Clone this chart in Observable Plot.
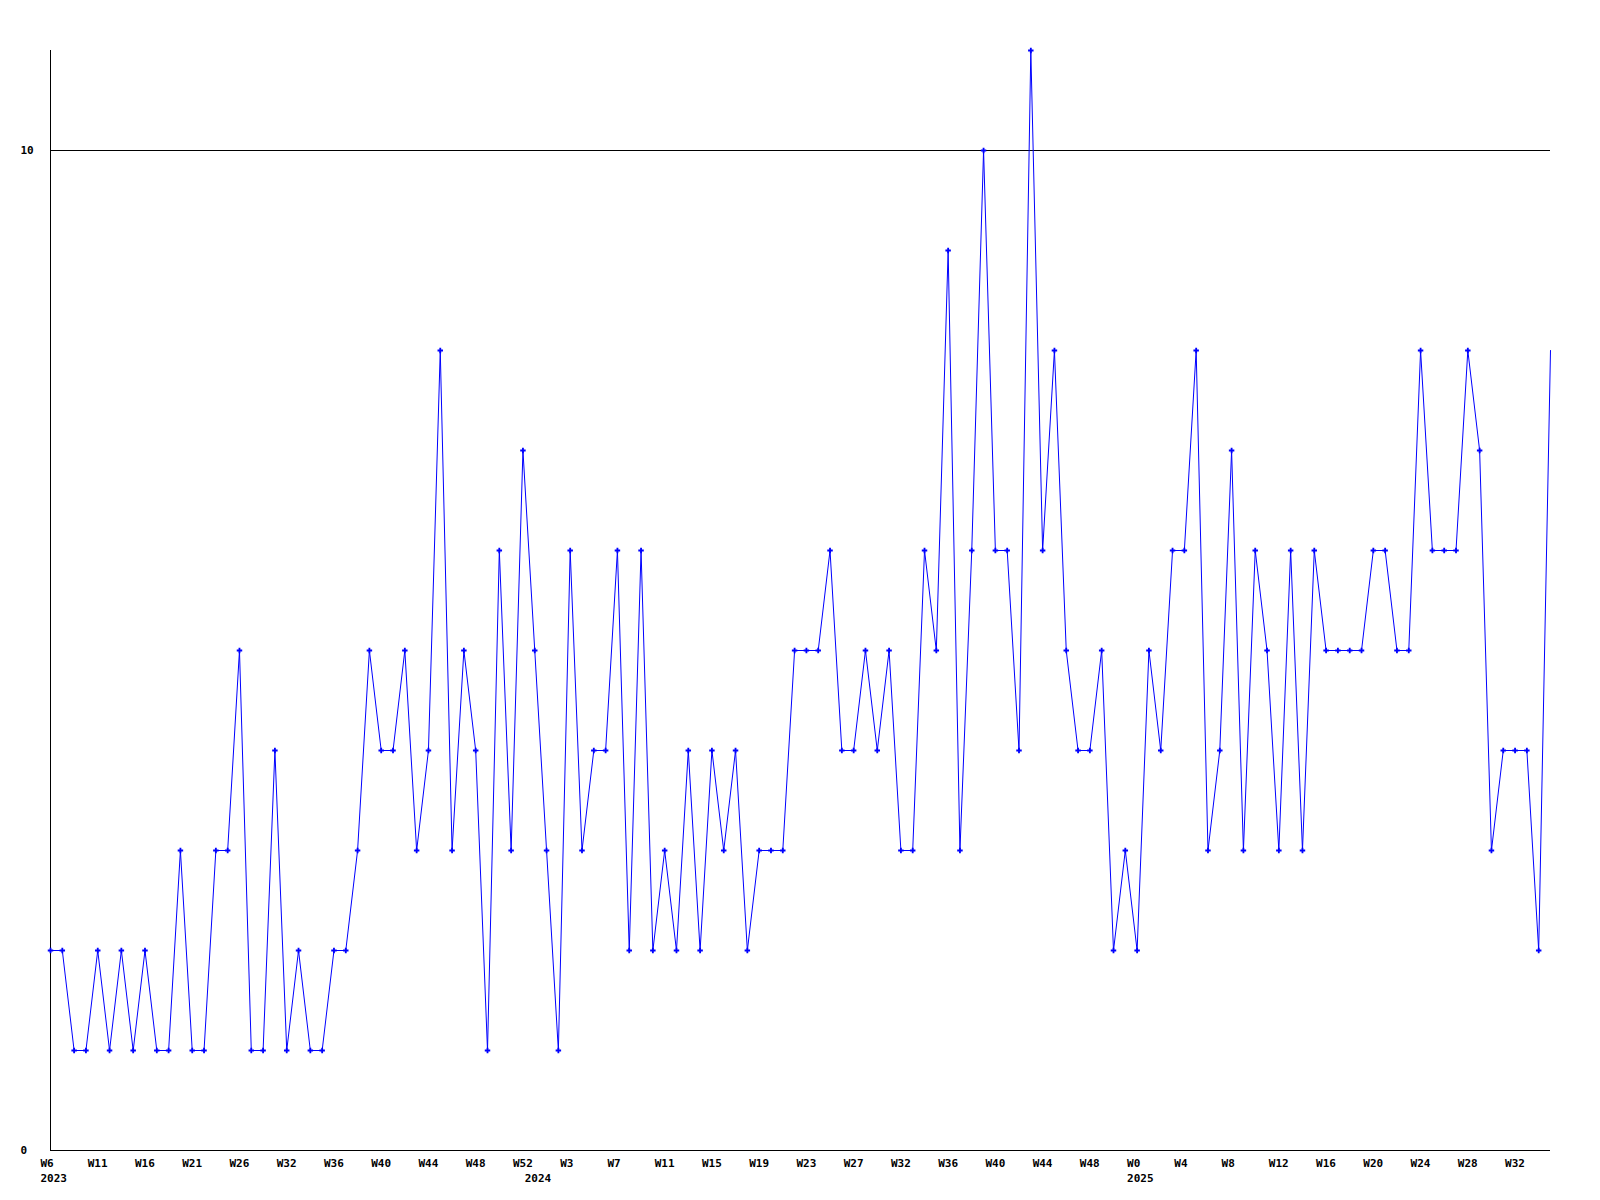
<!DOCTYPE html>
<html>
<head>
<meta charset="utf-8">
<script src="https://cdn.jsdelivr.net/npm/d3@7"></script>
<script src="https://cdn.jsdelivr.net/npm/@observablehq/plot@0.6"></script>
<style>
  html, body { margin: 0; padding: 0; background: #ffffff; }
  #chart svg { display: block; }
</style>
</head>
<body>
<div id="chart"></div>
<script>
// Weekly counts, 2023 W6 through 2025 (one value per week)
const values = [
  2,2,1,1,2,1,2,1,2,1,
  1,3,1,1,3,3,5,1,1,4,
  1,2,1,1,2,2,3,5,4,4,
  5,3,4,8,3,5,4,1,6,3,
  7,5,3,1,6,3,4,4,6,2,
  6,2,3,2,4,2,4,3,4,2,
  3,3,3,5,5,5,6,4,4,5,
  4,5,3,3,6,5,9,3,6,10,
  6,6,4,11,6,8,5,4,4,5,
  2,3,2,5,4,6,6,8,3,4,
  7,3,6,5,3,6,3,6,5,5,
  5,5,6,6,5,5,8,6,6,6,
  8,7,3,4,4,4,2,8
];
// week positions (index of each weekly point)
const weeks = values.map((_, i) => i);

// week tick labels, one every 4 points
const weekTickIndex = d3.range(0, 125, 4);
const weekTickLabels = [
  "W6","W11","W16","W21","W26","W32","W36","W40","W44","W48","W52",
  "W3","W7","W11","W15","W19","W23","W27","W32","W36","W40","W44","W48",
  "W0","W4","W8","W12","W16","W20","W24","W28","W32"
];
// year labels
const yearTickIndex = [0, 41, 92];
const yearTickLabels = ["2023", "2024", "2025"];
// y ticks
const yTicks = [0, 10];

const data = weeks.map((w, i) => ({week: w, value: values[i]}));
// the final (current, still-open) week is drawn without a marker in the reference
const markerData = data.slice(0, -1);

const FONT = "'DejaVu Sans Mono', 'Liberation Mono', monospace";

const chart = Plot.plot({
  width: 1600,
  height: 1200,
  marginLeft: 50,
  marginRight: 50,
  marginTop: 50,
  marginBottom: 50,
  style: {fontFamily: FONT, fontSize: "11px", fontWeight: "bold", background: "#ffffff", color: "#000"},
  x: {type: "linear", domain: [0, values.length - 1], axis: null, label: null},
  y: {type: "linear", domain: [0, 11], axis: null, label: null},
  marks: [
    Plot.ruleY([10], {stroke: "#000", strokeWidth: 1}),
    Plot.ruleY([0], {stroke: "#000", strokeWidth: 1}),
    Plot.ruleX([0], {stroke: "#000", strokeWidth: 1}),
    Plot.axisY({
      ticks: yTicks,
      tickSize: 0,
      tickPadding: 30,
      textAnchor: "start",
      tickFormat: d => String(d),
      label: null,
      fill: "#000",
      fontWeight: "bold"
    }),
    Plot.axisX({
      ticks: weekTickIndex,
      tickSize: 0,
      tickPadding: 8.5,
      textAnchor: "start",
      dx: -10,
      tickFormat: (d) => weekTickLabels[weekTickIndex.indexOf(d)],
      label: null,
      fill: "#000",
      fontWeight: "bold"
    }),
    Plot.axisX({
      ticks: yearTickIndex,
      tickSize: 0,
      tickPadding: 23.5,
      textAnchor: "start",
      dx: -10,
      tickFormat: (d) => yearTickLabels[yearTickIndex.indexOf(d)],
      label: null,
      fill: "#000",
      fontWeight: "bold"
    }),
    Plot.line(data, {x: "week", y: "value", stroke: "#0000ff", strokeWidth: 1}),
    Plot.dot(markerData, {x: "week", y: "value", symbol: "cross", r: 2.3, fill: "#0000ff", stroke: null})
  ]
});

document.getElementById("chart").appendChild(chart);
</script>
</body>
</html>
